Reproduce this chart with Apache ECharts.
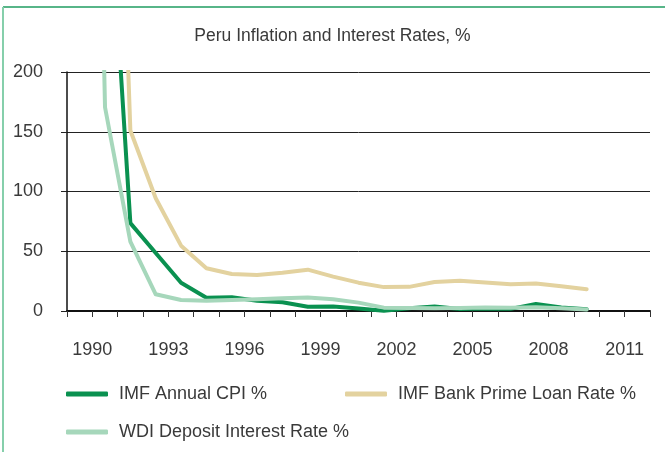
<!DOCTYPE html>
<html>
<head>
<meta charset="utf-8">
<title>Peru Inflation and Interest Rates</title>
<script src="https://cdn.jsdelivr.net/npm/echarts@6/dist/echarts.min.js"></script>
<style>
  html, body { margin: 0; padding: 0; background: #ffffff; }
  #chart { width: 665px; height: 452px; }
</style>
</head>
<body>
<div id="chart"></div>
<script>
// Annual observations, 1990–2010
const years = [1990, 1991, 1992, 1993, 1994, 1995, 1996, 1997, 1998, 1999, 2000,
               2001, 2002, 2003, 2004, 2005, 2006, 2007, 2008, 2009, 2010];
const cpi = [7481.7, 409.5, 73.5, 48.6, 23.7, 11.1, 11.5, 8.5, 7.3, 3.5, 3.8,
             2.0, 0.2, 2.3, 3.7, 1.6, 2.0, 1.8, 5.8, 2.9, 1.5];
const primeLoan = [4774.5, 751.5, 151, 94.4, 54.7, 35.8, 31.0, 30.2, 32.1, 34.6, 28.8,
                   23.7, 20.0, 20.2, 24.2, 25.4, 23.9, 22.4, 23.1, 20.7, 18.2];
const deposit = [1135.6, 170.5, 58.0, 14.0, 9.2, 8.6, 9.2, 9.8, 10.6, 11.2, 9.8,
                 7.0, 2.8, 2.5, 2.4, 2.5, 2.9, 2.8, 3.2, 2.3, 1.2];

const seriesNames = ['IMF Annual CPI %', 'IMF Bank Prime Loan Rate %', 'WDI Deposit Interest Rate %'];
const seriesColors = ['#0a9150', '#e3d29f', '#a6d7bb'];
const yTicks = [0, 50, 100, 150, 200];
const yearLabels = [1990, 1993, 1996, 1999, 2002, 2005, 2008, 2011];

// each annual value is centred in the span that ends at its year's tick
const pairs = vals => years.map((y, i) => [y - 0.5, vals[i]]);

const FONT = '"Liberation Sans", Arial, sans-serif';
const textCol = '#3a3a3a';

const chart = echarts.init(document.getElementById('chart'), null, { renderer: 'canvas' });

const legendBase = {
  icon: 'roundRect',
  itemWidth: 42,
  itemHeight: 5,
  textStyle: { fontFamily: FONT, fontSize: 18, color: textCol, padding: [0, 0, 0, 6] }
};

chart.setOption({
  backgroundColor: '#ffffff',
  animation: false,
  title: {
    text: 'Peru Inflation and Interest Rates, %',
    left: 'center',
    top: 22,
    textStyle: { fontFamily: FONT, fontSize: 17.5, fontWeight: 'normal', color: textCol }
  },
  graphic: [
    { type: 'line', shape: { x1: 3, y1: 7, x2: 665, y2: 7 }, style: { stroke: '#1f9d60', lineWidth: 1.5 } },
    { type: 'line', shape: { x1: 3, y1: 7, x2: 3, y2: 452 }, style: { stroke: '#86cfab', lineWidth: 2 } }
  ],
  legend: [
    Object.assign({ data: [seriesNames[0]], left: 61, top: 380 }, legendBase),
    Object.assign({ data: [seriesNames[1]], left: 340, top: 380 }, legendBase),
    Object.assign({ data: [seriesNames[2]], left: 61, top: 418 }, legendBase)
  ],
  grid: { left: 67, right: 15, top: 72, bottom: 141, containLabel: false },
  xAxis: {
    type: 'value',
    min: 1989,
    max: 2012,
    interval: 1,
    axisLine: { show: true, onZero: false, lineStyle: { color: '#111111', width: 2 } },
    axisTick: { show: true, length: 6, lineStyle: { color: '#333333', width: 1 } },
    splitLine: { show: false },
    axisLabel: {
      margin: 30,
      fontFamily: FONT,
      fontSize: 18,
      color: textCol,
      formatter: v => (yearLabels.indexOf(v) >= 0 ? String(v) : '')
    }
  },
  yAxis: {
    type: 'value',
    min: yTicks[0],
    max: yTicks[yTicks.length - 1],
    interval: 50,
    axisLine: { show: true, lineStyle: { color: '#111111', width: 1.5 } },
    axisTick: { show: true, length: 6, lineStyle: { color: '#222222', width: 1 } },
    splitLine: { show: true, lineStyle: { color: '#222222', width: 1 } },
    axisLabel: { margin: 24, fontFamily: FONT, fontSize: 18, color: textCol }
  },
  series: [
    { name: seriesNames[0], data: pairs(cpi) },
    { name: seriesNames[1], data: pairs(primeLoan) },
    { name: seriesNames[2], data: pairs(deposit) }
  ].map((s, i) => Object.assign({
    type: 'line',
    showSymbol: false,
    clip: true,
    color: seriesColors[i],
    lineStyle: { color: seriesColors[i], width: 4, join: 'round', cap: 'round' },
    emphasis: { disabled: true }
  }, s))
});
</script>
</body>
</html>
